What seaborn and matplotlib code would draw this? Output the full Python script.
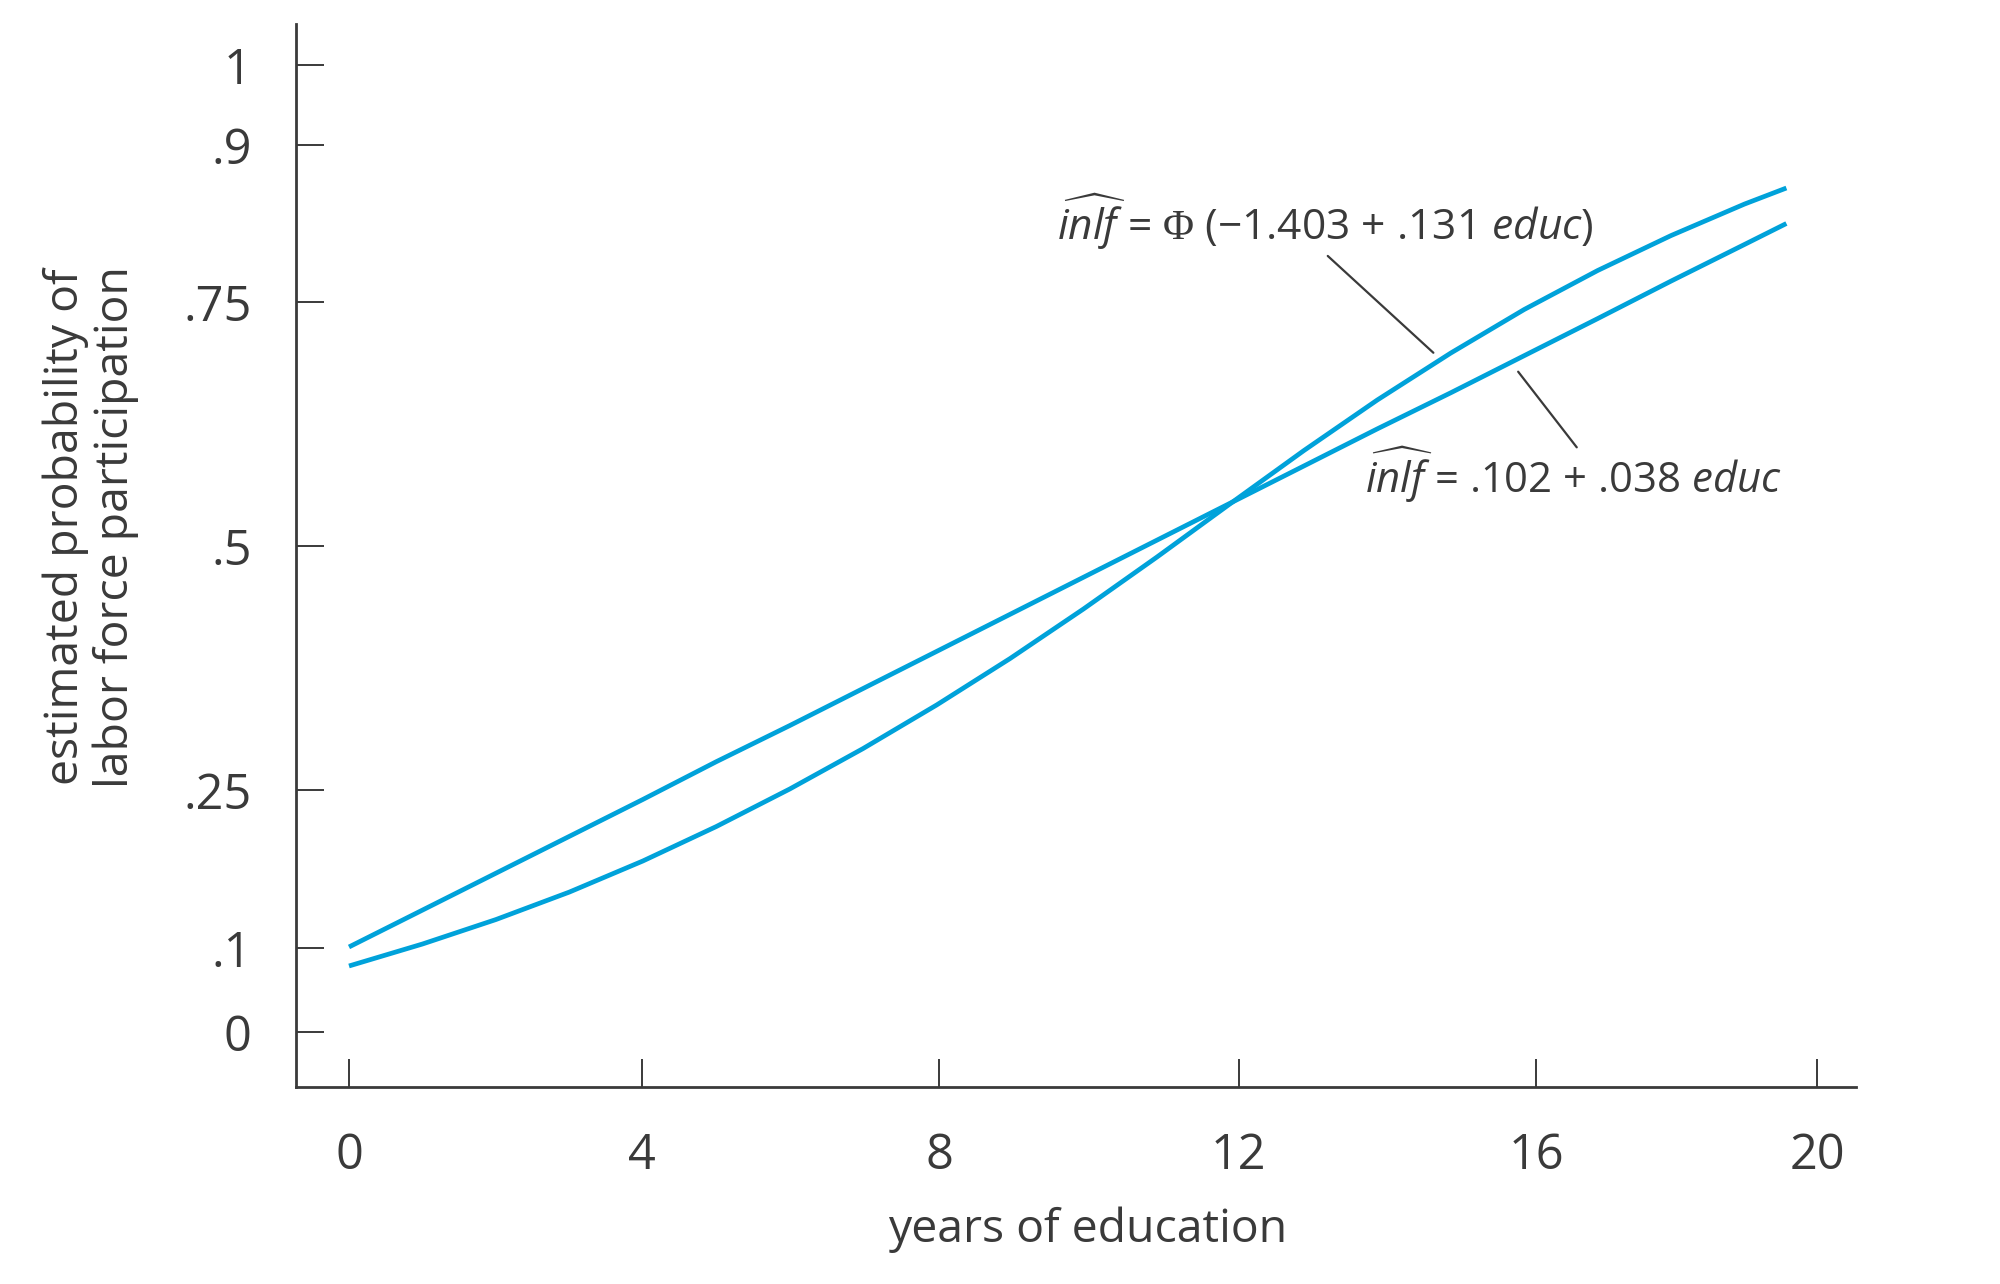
import numpy as np
import pandas as pd
import matplotlib
matplotlib.use("Agg")
import matplotlib.pyplot as plt
import seaborn as sns

# ---------------- data ----------------
educ_linear = [0, 1.003, 2.005, 3.008, 4.011, 5.0, 5.989, 6.978, 7.968, 8.949, 9.930,
               10.911, 11.892, 12.879, 13.866, 14.854, 15.841, 16.878, 17.923, 18.969, 19.564]
prob_linear = [0.101, 0.136, 0.171, 0.206, 0.241, 0.279, 0.316, 0.354, 0.392, 0.430,
               0.468, 0.506, 0.544, 0.582, 0.620, 0.657, 0.695, 0.733, 0.770, 0.805, 0.825]

educ_probit = [0, 1.003, 2.005, 3.008, 4.011, 5.0, 5.989, 6.978, 7.968, 8.949, 9.930,
               10.911, 11.892, 12.879, 13.866, 14.854, 15.841, 16.878, 17.923, 18.969, 19.564]
prob_probit = [0.0786, 0.1038, 0.1270, 0.1531, 0.1826, 0.2153, 0.2510, 0.2925, 0.3371,
               0.3847, 0.4355, 0.4887, 0.5435, 0.5978, 0.6496, 0.6977, 0.7423, 0.7801,
               0.8135, 0.8436, 0.8589]

x_ticks = [0, 4, 8, 12, 16, 20]
y_ticks = [0, 0.1, 0.25, 0.5, 0.75, 0.9, 1]
y_ticklabels = ["0", ".1", ".25", ".5", ".75", ".9", "1"]

probit_label = r"$\widehat{inlf}$ = $\mathsf{\Phi}$ (−1.403 + .131 $educ$)"
linear_label = r"$\widehat{inlf}$ = .102 + .038 $educ$"
x_label = "years of education"
y_label = "estimated probability of\nlabor force participation"

# ---------------- styling ----------------
sns.set_theme(style="white")
plt.rcParams["font.family"] = ["Open Sans", "DejaVu Sans"]
plt.rcParams["mathtext.fontset"] = "custom"
plt.rcParams["mathtext.rm"] = "Open Sans"
plt.rcParams["mathtext.it"] = "Open Sans:italic:regular"
plt.rcParams["mathtext.sf"] = "Liberation Serif"

LINE_C = "#00a2da"
INK = "#3a3a3a"


# the printed axes are hand-drawn: piecewise-linear scales through the ticks
def make_piecewise(knot_v, knot_u, lo_slope, hi_slope):
    knot_v = np.asarray(knot_v, dtype=float)
    knot_u = np.asarray(knot_u, dtype=float)

    def fwd(v):
        v = np.asarray(v, dtype=float)
        out = np.interp(v, knot_v, knot_u)
        out = np.where(v < knot_v[0], knot_u[0] + (v - knot_v[0]) * lo_slope, out)
        out = np.where(v > knot_v[-1], knot_u[-1] + (v - knot_v[-1]) * hi_slope, out)
        return out

    def inv(u):
        u = np.asarray(u, dtype=float)
        out = np.interp(u, knot_u, knot_v)
        out = np.where(u < knot_u[0], knot_v[0] + (u - knot_u[0]) / lo_slope, out)
        out = np.where(u > knot_u[-1], knot_v[-1] + (u - knot_u[-1]) / hi_slope, out)
        return out

    return fwd, inv


y_fwd, y_inv = make_piecewise(y_ticks, [0, 84, 242, 486, 730, 887, 967], 840.0, 810.0)
x_fwd, x_inv = make_piecewise(x_ticks, [0, 293, 590, 889.5, 1187, 1468], 73.25, 70.25)

fig = plt.figure(figsize=(10, 6.42), dpi=200)
ax = fig.add_axes([0.148, 0.1534, 0.780, 0.8279])
ax.set_xscale("function", functions=(x_fwd, x_inv))
ax.set_yscale("function", functions=(y_fwd, y_inv))

df_lin = pd.DataFrame({"educ": educ_linear, "p": prob_linear})
df_pro = pd.DataFrame({"educ": educ_probit, "p": prob_probit})
for df in (df_lin, df_pro):
    sns.lineplot(data=df, x="educ", y="p", ax=ax, color=LINE_C, linewidth=1.7,
                 solid_capstyle="butt", solid_joinstyle="round")

ax.set_xlim(-0.7236, 20.555)
ax.set_ylim(-0.0655, 1.0506)
ax.set_xticks(x_ticks)
ax.set_xticklabels([str(t) for t in x_ticks])
ax.set_yticks(y_ticks)
ax.set_yticklabels(y_ticklabels)
ax.minorticks_off()

for s in ["top", "right"]:
    ax.spines[s].set_visible(False)
for s in ["left", "bottom"]:
    ax.spines[s].set_color(INK)
    ax.spines[s].set_linewidth(1.0)

ax.tick_params(axis="both", which="major", bottom=True, left=True, direction="in",
               length=10.1, width=0.7, color=INK, labelcolor=INK, labelsize=17.5,
               pad=16.0)

ax.set_xlabel("")
ax.set_ylabel("")
fig.text(1088 / 2000, 1 - 1230 / 1284, x_label, ha="center", va="center",
         fontsize=16.7, color=INK)
fig.text(91 / 2000, 1 - 527 / 1284, y_label, ha="center", va="center", rotation=90,
         fontsize=16.7, color=INK, linespacing=1.1, multialignment="center")

# annotations
ax.text(9.57, 0.809, probit_label, ha="left", va="baseline", fontsize=15.3, color=INK)
ax.text(13.70, 0.554, linear_label, ha="left", va="baseline", fontsize=15.1, color=INK)
ax.annotate("", xy=(14.62, 0.698), xytext=(13.20, 0.794),
            arrowprops=dict(arrowstyle="-", color=INK, lw=0.8, shrinkA=0, shrinkB=0))
ax.annotate("", xy=(15.76, 0.6786), xytext=(16.58, 0.6011),
            arrowprops=dict(arrowstyle="-", color=INK, lw=0.8, shrinkA=0, shrinkB=0))

fig.savefig("out.png", dpi=200, facecolor="white")
